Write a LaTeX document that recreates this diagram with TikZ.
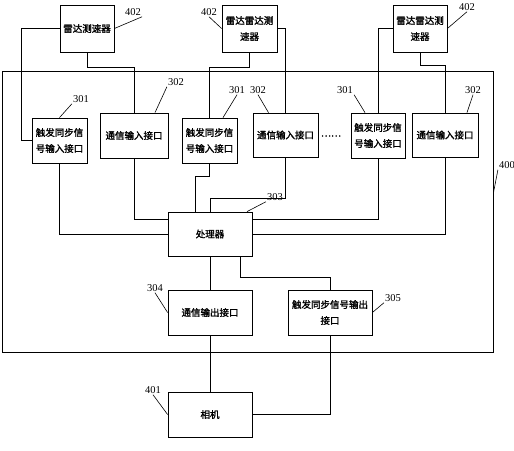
\documentclass[tikz,border=0pt]{standalone}
\usepackage{fontspec}
\setmainfont{Liberation Serif}
\newfontfamily\cjk[FakeBold=1.6]{Noto Sans CJK SC}
\usetikzlibrary{calc}

\tikzset{
	blk/.style={draw,line width=0.8pt,inner sep=0pt,align=center,font=\cjk\fontsize{9.5}{16}\selectfont},
	num/.style={inner sep=1pt,font=\fontsize{10.5}{10.5}\selectfont},
	lead/.style={line width=0.6pt}
}

\begin{document}
\begin{tikzpicture}[x=1pt,y=-1pt]
		\useasboundingbox (0,0) rectangle (514,450);
		\node[draw,line width=0.8pt,minimum width=491,minimum height=281,inner sep=0pt] (BOX) at (247.5,211.5) {};
		%
		\node[blk,minimum width=54,minimum height=47] (R1) at (87,28.5) {雷达测速器};
		\node[blk,minimum width=55,minimum height=47] (R2) at (249.5,28.5) {雷达雷达测\\速器};
		\node[blk,minimum width=54,minimum height=47] (R3) at (420,28.5) {雷达雷达测\\速器};
		%
		\node[blk,minimum width=55,minimum height=45] (IN1) at (59.5,140.5) {触发同步信\\号输入接口};
		\node[blk,minimum width=68,minimum height=45] (CI1) at (134,135.5) {通信输入接口};
		\node[blk,minimum width=55,minimum height=45] (IN2) at (209.5,140.5) {触发同步信\\号输入接口};
		\node[blk,minimum width=65,minimum height=44] (CI2) at (285.5,135) {通信输入接口};
		\node[font=\cjk\fontsize{9.5}{10}\selectfont] (DOTS) at (331,136) {……};
		\node[blk,minimum width=54,minimum height=45] (IN3) at (378,135.5) {触发同步信\\号输入接口};
		\node[blk,minimum width=66,minimum height=44] (CI3) at (445,135) {通信输入接口};
		%
		\node[blk,minimum width=84,minimum height=44] (CPU) at (210,234) {处理器};
		\node[blk,minimum width=84,minimum height=45] (COUT) at (210,312.5) {通信输出接口};
		\node[blk,minimum width=84,minimum height=45] (TOUT) at (330,312.5) {触发同步信号输出\\接口};
		\node[blk,minimum width=84,minimum height=45] (CAM) at (210,414.5) {相机};
		%
		\node[num] (L1) at (133,12) {402};
		\node[num] (L2) at (209,12) {402};
		\node[num] (L3) at (467,7) {402};
		\node[num] (L4) at (81,99) {301};
		\node[num] (L5) at (176,82) {302};
		\node[num] (L6) at (237,90) {301};
		\node[num] (L7) at (258,90) {302};
		\node[num] (L8) at (345,90) {301};
		\node[num] (L9) at (473,90) {302};
		\node[num] (L10) at (275,197) {303};
		\node[num] (L11) at (155,288) {304};
		\node[num] (L12) at (393,298) {305};
		\node[num] (L13) at (507,165) {400};
		\node[num] (L14) at (153,390) {401};
		%
		\draw[line width=0.8pt]
		(R1.west) -- ++(-38,0) |- (IN1.west)
		(R1.south) -- ++(0,15) -| (CI1.north)
		(IN1.south) |- (CPU.west)
		(CI1.south) |- ([yshift=15pt]CPU.west)
		(R2.south) -- ++(0,15) -| (IN2.north)
		(R2.east) -| (CI2.north)
		(IN2.south) -- ++(0,13) -| ([xshift=-15pt]CPU.north)
		(CI2.south) -- ++(0,41) -| (CPU.north)
		(R3.west) -| (IN3.north)
		(R3.south) -- ++(0,13) -| (CI3.north)
		(IN3.south) |- ([yshift=15pt]CPU.east)
		(CI3.south) |- (CPU.east)
		(CPU.south) -- (COUT.north)
		([xshift=30pt]CPU.south) -- ++(0,21) -| (TOUT.north)
		(COUT.south) -- (CAM.north)
		(TOUT.south) |- (CAM.east);
		%
		\draw[lead]
		(R1.east) -- (L1.south east)
		(R2.west) -- (L2.south)
		(R3.east) -- (L3.south)
		(IN1.north) -- (L4.south west)
		([xshift=21pt]CI1.north) -- (L5.south west)
		([xshift=13.5pt]IN2.north) -- (L6.south)
		([xshift=-17pt]CI2.north) -- (L7.south)
		([xshift=-13pt]IN3.north) -- (L8.south east)
		([xshift=22pt]CI3.north) -- (L9.south)
		([xshift=37pt]CPU.north) -- (L10.south west)
		(COUT.west) -- (L11.south)
		(TOUT.east) -- (L12.south west)
		([yshift=18.5pt]BOX.east) -- (L13.south west)
		(CAM.west) -- (L14.south);
\end{tikzpicture}
\end{document}
